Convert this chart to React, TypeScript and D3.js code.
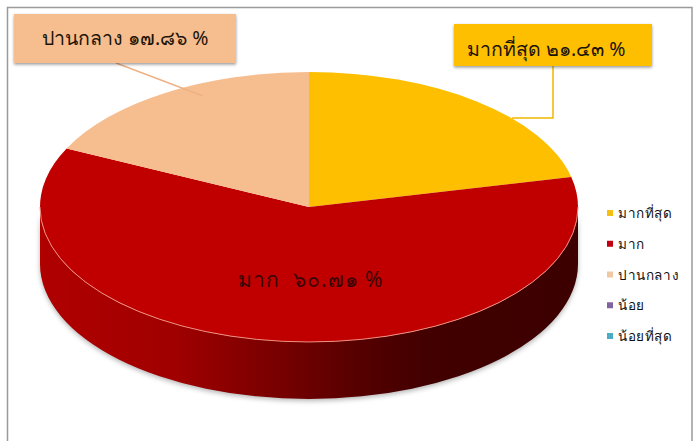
import { useRef, useEffect } from "react";
import * as d3 from "d3";

const categories = ["มากที่สุด", "มาก", "ปานกลาง", "น้อย", "น้อยที่สุด"];
const values = [21.43, 60.71, 17.86, 0, 0];
const colors = ["#fdbf00", "#c00000", "#f6bd8f", "#8064a2", "#4bacc6"];
const legendColors = ["#f5c011", "#c00010", "#f0c8a4", "#8064a2", "#4bacc6"];
const yellowLabel = "มากที่สุด ๒๑.๔๓ %";
const redLabel = "มาก  ๖๐.๗๑ %";
const peachLabel = "ปานกลาง ๑๗.๘๖ %";

const WIDTH = 698;
const HEIGHT = 441;
const FONT = "'Noto Sans', 'DejaVu Sans', 'Liberation Sans', sans-serif";

export default function App() {
  const svgRef = useRef<SVGSVGElement>(null);

  useEffect(() => {
    if (!svgRef.current) return;
    const svg = d3.select(svgRef.current);
    svg.selectAll("*").remove();

    const cx = 309;
    const cy = 207;
    const rx = 269;
    const ry = 135;
    const depth = 57;

    const defs = svg.append("defs");

    const rimGrad = defs
      .append("linearGradient")
      .attr("id", "rim")
      .attr("x1", "0")
      .attr("x2", "1")
      .attr("y1", "0")
      .attr("y2", "0");
    [
      [0, "#b00000"],
      [0.25, "#a00000"],
      [0.45, "#760000"],
      [0.6, "#540000"],
      [0.72, "#420000"],
      [1, "#3c0000"],
    ].forEach(([o, c]) => rimGrad.append("stop").attr("offset", o).attr("stop-color", c));

    const blur = defs.append("filter").attr("id", "blur").attr("x", "-10%").attr("y", "-10%").attr("width", "120%").attr("height", "130%");
    blur.append("feGaussianBlur").attr("stdDeviation", 2.5);
    const soft = defs.append("filter").attr("id", "soft").attr("x", "-5%").attr("y", "-10%").attr("width", "110%").attr("height", "130%");
    soft.append("feDropShadow").attr("dx", 0).attr("dy", 1.5).attr("stdDeviation", 1.5).attr("flood-color", "#000").attr("flood-opacity", 0.4);

    // Frame, open at the bottom edge of the picture
    svg
      .append("path")
      .attr("d", `M7.5,${HEIGHT} V7.5 H692 V${HEIGHT}`)
      .attr("fill", "none")
      .attr("stroke", "#9a9a9a")
      .attr("stroke-width", 1.5);

    // Side wall of the disc
    const rimPath = `M${cx + rx},${cy} A${rx},${ry} 0 0 1 ${cx - rx},${cy} V${cy + depth} A${rx},${ry} 0 0 0 ${cx + rx},${cy + depth} Z`;
    svg
      .append("path")
      .attr("d", rimPath)
      .attr("transform", "translate(0,2)")
      .attr("fill", "#777")
      .attr("opacity", 0.55)
      .attr("filter", "url(#blur)");
    svg.append("path").attr("d", rimPath).attr("fill", "url(#rim)");

    // Top face, unit pie squashed to the ellipse
    const pie = d3.pie<number>().sort(null)(values);
    const arc = d3.arc<d3.PieArcDatum<number>>().innerRadius(0).outerRadius(rx);
    const top = svg.append("g").attr("transform", `translate(${cx},${cy}) scale(1,${ry / rx})`);
    top
      .selectAll("path")
      .data(pie.filter((d) => d.value > 0))
      .join("path")
      .attr("d", (d) => arc(d))
      .attr("fill", (d) => colors[d.index]);

    // Pale edge where the top face meets the wall
    svg
      .append("path")
      .attr("d", `M${cx + rx},${cy} A${rx},${ry} 0 0 1 ${cx - rx},${cy}`)
      .attr("fill", "none")
      .attr("stroke", "#ee8f80")
      .attr("stroke-width", 1);

    // Leader lines
    svg
      .append("path")
      .attr("d", "M116,63 L203,96")
      .attr("fill", "none")
      .attr("stroke", "#eeb285")
      .attr("stroke-width", 1.5);
    svg
      .append("path")
      .attr("d", "M553,66 V118 H512")
      .attr("fill", "none")
      .attr("stroke", "#f2b800")
      .attr("stroke-width", 1.5);

    // Callouts
    const callouts = [
      { x: 14, y: 14, w: 222, h: 49, fill: colors[2], text: peachLabel, textX: 42, textY: 45 },
      { x: 454, y: 24, w: 198, h: 42, fill: colors[0], text: yellowLabel, textX: 467, textY: 56 },
    ];
    callouts.forEach((c) => {
      svg
        .append("rect")
        .attr("x", c.x)
        .attr("y", c.y)
        .attr("width", c.w)
        .attr("height", c.h)
        .attr("fill", c.fill)
        .attr("filter", "url(#soft)");
      svg
        .append("text")
        .attr("x", c.textX)
        .attr("y", c.textY)
        .attr("font-family", FONT)
        .attr("font-size", 19.5)
        .attr("fill", "#1c1408")
        .text(c.text);
    });

    svg
      .append("text")
      .attr("x", 238)
      .attr("y", 287)
      .attr("font-family", FONT)
      .attr("font-size", 21)
      .attr("letter-spacing", 1)
      .attr("fill", "#3a0505")
      .style("white-space", "pre")
      .text(redLabel);

    // Legend
    const legendY = d3.scalePoint<string>().domain(categories).range([213, 336]);
    const legend = svg
      .append("g")
      .selectAll("g")
      .data(categories)
      .join("g")
      .attr("transform", (d) => `translate(607,${legendY(d)})`);
    legend
      .append("rect")
      .attr("x", 0)
      .attr("y", -3)
      .attr("width", 6)
      .attr("height", 6)
      .attr("fill", (_, i) => legendColors[i]);
    legend
      .append("text")
      .attr("x", 11)
      .attr("y", 5)
      .attr("font-family", FONT)
      .attr("font-size", 13.5)
      .attr("letter-spacing", 0.6)
      .attr("fill", "#111")
      .text((d) => d);
  }, []);

  return (
    <svg
      ref={svgRef}
      width={WIDTH}
      height={HEIGHT}
      style={{ position: "fixed", left: 0, top: 0, background: "#fff" }}
    />
  );
}
